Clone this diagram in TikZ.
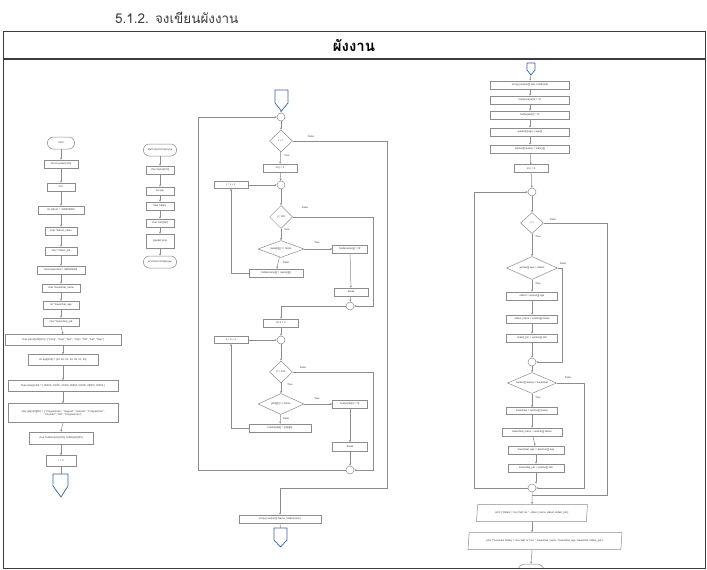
\documentclass[tikz,border=0pt]{standalone}
\usepackage{fontspec}
\setmainfont{Liberation Sans}
\newfontfamily\thai[Script=Thai]{Loma}
\newfontfamily\df{Liberation Sans}
\usetikzlibrary{arrows.meta,shapes.geometric,shapes.misc}
\definecolor{lgray}{HTML}{8C8C8C}
\definecolor{tgray}{HTML}{3A3A3A}
\definecolor{bluec}{HTML}{3561A8}
\definecolor{frame}{HTML}{3C3C3C}
\tikzset{
  fc/.style={draw=lgray, line width=0.5pt, fill=white, font=\df\fontsize{2.6}{3.1}\selectfont, text=tgray, inner sep=0.4pt, minimum height=8, align=center},
  term/.style={fc, rounded rectangle},
  dec/.style={fc, diamond, inner sep=0pt},
  jn/.style={draw=lgray, line width=0.5pt, circle, minimum size=8, inner sep=0pt, fill=white},
  io/.style={fc, trapezium, trapezium left angle=70, trapezium right angle=110, trapezium stretches body},
  arr/.style={draw=lgray, line width=0.5pt, -{Stealth[length=2.2pt,width=2pt]}},
  ln/.style={draw=lgray, line width=0.5pt},
  lab/.style={font=\df\fontsize{2.6}{3.1}\selectfont, text=tgray, inner sep=0pt},
  opc/.style={draw=bluec, line width=0.7pt, line join=round},
}
\begin{document}
\begin{tikzpicture}[x=1pt,y=-1pt]
\useasboundingbox (0,0) rectangle (707,570);
\fill[white] (0,0) rectangle (707,570);

% title and header
\node[anchor=west, inner sep=0pt, font=\thai\fontsize{13.5}{15}\selectfont, text=frame] (title) at (115,18) {5.1.2. จงเขียนผังงาน};
\node[inner sep=0pt, font=\thai\bfseries\fontsize{15}{17}\selectfont, text=black] (head) at (354,45) {ผังงาน};

% ---------------- left column ----------------
\node[term, minimum width=28, minimum height=12] (l1) at (61,143) {start};
\node[fc, minimum width=34] (l2) at (61,164) {struct worker[100]};
\node[fc, minimum width=28] (l3) at (61,187) {int i};
\node[fc, minimum width=46] (l4) at (61,210) {int oldest = -999999999};
\node[fc, minimum width=32] (l5) at (61,231) {char *oldest\_name};
\node[fc, minimum width=32] (l6) at (61,251) {char *oldest\_job};
\node[fc, minimum width=48] (l7) at (61,270) {float lowestSal = 999999999};
\node[fc, minimum width=38] (l8) at (61,288) {char *lowestSal\_name};
\node[fc, minimum width=36] (l9) at (61,305) {int *lowestSal\_age};
\node[fc, minimum width=36] (l10) at (61,322) {char *lowestSal\_job};
\node[fc, minimum width=116, minimum height=11] (l11) at (63,340) {char name[100][10] = \{"Pong", "Sam", "Nut", "Ying", "Toll", "Pat", "Nap"\}};
\node[fc, minimum width=70, minimum height=11] (l12) at (63,360) {int age[100] = \{22, 25, 24, 26, 28, 31, 25\}};
\node[fc, minimum width=110, minimum height=11] (l13) at (63,386) {float salary[100] = \{ 45000, 23000, 31250, 36850, 50000, 28500, 25000 \}};
\node[fc, minimum width=110, minimum height=19] (l14) at (63,413) {char job[100][50] = \{ "Programmer", "Support", "Advisor", "Programmer",\\ "Founder", "HR", "Programmer"\}};
\node[fc, minimum width=64, minimum height=12] (l15) at (61,438) {char holdername[100], holderjob[100]};
\node[fc, minimum width=30, minimum height=11] (l16) at (61,461) {i = 0};
\draw[opc] (53,474) -- (68,474) -- (68,486) -- (61,497) -- (53,486) -- cycle;
\coordinate (lc) at (61,474);
\foreach \a/\b in {l1/l2,l2/l3,l3/l4,l4/l5,l5/l6,l6/l7,l7/l8,l8/l9,l9/l10,l10/l11,l11/l12,l12/l13,l13/l14,l14/l15,l15/l16}
  \draw[arr] (\a.south) -- (\b.north);
\draw[ln] (l16.south) -- (lc);

% ---------------- struct column ----------------
\node[term, minimum width=34, minimum height=12] (s1) at (160,150) {start struct Employee};
\node[fc, minimum width=28] (s2) at (160,170) {char Name[100]};
\node[fc, minimum width=28] (s3) at (160,191) {int age};
\node[fc, minimum width=28] (s4) at (160,206) {float Salary};
\node[fc, minimum width=28] (s5) at (160,223) {char Job[100]};
\node[fc, minimum width=28, minimum height=14] (s6) at (160,241) {typedef emp};
\node[term, minimum width=34, minimum height=12] (s7) at (160,262) {end struct Employee};
\foreach \a/\b in {s1/s2,s2/s3,s3/s4,s4/s5,s5/s6,s6/s7}
  \draw[arr] (\a.south) -- (\b.north);

% ---------------- middle column ----------------
\draw[opc] (275,90) -- (288,90) -- (288,103) -- (281.5,111) -- (275,103) -- cycle;
\coordinate (mc1) at (281,111);
\node[jn] (c1) at (281,117) {};
\node[dec, minimum width=23, minimum height=22] (d1) at (281,141) {i < 7};
\node[fc, minimum width=34] (bj0) at (280,168) {int j = 0};
\node[jn] (c2) at (281,185) {};
\node[fc, minimum width=34, minimum height=7] (bjinc) at (231,185) {j = j + 1};
\node[dec, minimum width=23, minimum height=23] (d2) at (281,217) {j < 100};
\node[dec, aspect=2.7, minimum width=46, minimum height=17] (d3) at (281,249) {name[i][j] == NULL};
\node[fc, minimum width=35] (bhn0) at (350,249) {holdername[j] = '\textbackslash 0'};
\node[fc, minimum width=34] (bbr1) at (351,292) {break};
\node[jn] (c3) at (350,306) {};
\node[fc, minimum width=54] (bhn) at (276,273) {holdername[j] = name[i][j]};
\node[fc, minimum width=35] (bk0) at (281,323) {int k = 0};
\node[jn] (c4) at (281,340) {};
\node[fc, minimum width=34, minimum height=7] (bkinc) at (231,340) {k = k + 1};
\node[dec, minimum width=23, minimum height=22] (d4) at (281,372) {k < 100};
\node[dec, aspect=2.2, minimum width=46, minimum height=21] (d5) at (281,404) {job[i][k] == NULL};
\node[fc, minimum width=35] (bhj0) at (350,404) {holderjob[k] = '\textbackslash 0'};
\node[fc, minimum width=62] (bhj) at (280,428) {holderjob[k] = job[i][k]};
\node[fc, minimum width=35, minimum height=9] (bbr2) at (350,447) {break};
\node[jn] (c5) at (350,470) {};
\node[fc, minimum width=82] (sc1) at (280,519) {strcpy( worker[i].Name, holdername)};
\draw[opc] (274,528) -- (287,528) -- (287,540) -- (280.5,547) -- (274,540) -- cycle;
\coordinate (mc2) at (280.5,528);

\draw[arr] (mc1) -- (c1.north);
\draw[arr] (c1) -- (d1);
\draw[arr] (d1) -- (bj0);
\draw[arr] (bj0) -- (c2);
\draw[arr] (bjinc.east) -- (c2.west);
\draw[arr] (c2) -- (d2);
\draw[arr] (d2) -- (d3);
\draw[arr] (d3.east) -- (bhn0.west);
\draw[arr] (bhn0) -- (bbr1);
\draw[arr] (bbr1) -- (c3);
\draw[arr] (d3) -- (bhn);
\draw[arr] (bhn.west) -| (bjinc.south);
\draw[arr] (d2.east) -- (373,217) |- (c3.east);
\draw[arr] (c3.west) -| (bk0.north);
\draw[arr] (bk0) -- (c4);
\draw[arr] (bkinc.east) -- (c4.west);
\draw[arr] (c4) -- (d4);
\draw[arr] (d4) -- (d5);
\draw[arr] (d5.east) -- (bhj0.west);
\draw[arr] (bhj0) -- (bbr2);
\draw[arr] (bbr2) -- (c5);
\draw[arr] (d5) -- (bhj);
\draw[arr] (bhj.west) -| (bkinc.south);
\draw[arr] (d4.east) -- (373,372) |- (c5.east);
\draw[arr] (c5.west) -- (198,470) |- (c1.west);
\draw[arr] (d1.east) -- (387,141) |- (280,488) -- (sc1.north);
\draw[ln] (sc1.south) -- (mc2);

\node[lab] at (311,137) {False};
\node[lab] at (287,156) {True};
\node[lab] at (305,208) {False};
\node[lab] at (287,230) {True};
\node[lab] at (317,243) {True};
\node[lab] at (286,263) {False};
\node[lab] at (303,368) {False};
\node[lab] at (290,385) {True};
\node[lab] at (317,399) {True};
\node[lab] at (286,419) {False};

% ---------------- right column ----------------
\draw[opc] (527,63) -- (535,63) -- (535,70) -- (531,75) -- (527,70) -- cycle;
\coordinate (rc1) at (531,75);
\node[fc, minimum width=79] (r1) at (530,85) {strcpy( worker[i].Job, holderjob)};
\node[fc, minimum width=79] (r2) at (530,100) {holdername[0] = '\textbackslash 0'};
\node[fc, minimum width=79] (r3) at (530,115) {holderjob[0] = '\textbackslash 0'};
\node[fc, minimum width=79] (r4) at (530,132) {worker[i].age = age[i]};
\node[fc, minimum width=79] (r5) at (530,149) {worker[i].Salary = salary[i]};
\node[fc, minimum width=34] (r6) at (531,168.5) {int j = 0};
\node[jn] (rc2) at (532,192) {};
\node[dec, minimum width=23, minimum height=21] (rd1) at (532,223) {j < i};
\node[dec, aspect=2.2, minimum width=51, minimum height=23] (rd2) at (532,268) {worker[j].age > oldest};
\node[fc, minimum width=51] (r7) at (532,296) {oldest = worker[j].age};
\node[fc, minimum width=51] (r8) at (532,319) {oldest\_name = worker[j].Name};
\node[fc, minimum width=51] (r9) at (532,338) {oldest\_job = worker[j].Job};
\node[jn] (rc3) at (532,362) {};
\node[dec, aspect=2.3, minimum width=49, minimum height=21] (rd3) at (532,383) {worker[j].Salary < lowestSal};
\node[fc, minimum width=51, minimum height=7] (r10) at (532,411) {lowestSal = worker[j].Salary};
\node[fc, minimum width=60] (r11) at (532,432) {lowestSal\_name = worker[j].Name};
\node[fc, minimum width=56] (r12) at (536,450) {lowestSal\_age = \&worker[j].age};
\node[fc, minimum width=56] (r13) at (536,468) {lowestSal\_job = worker[j].Job};
\node[jn] (rc4) at (532,488) {};
\node[io, minimum width=111, minimum height=17] (p1) at (532,513) {print ("Oldest = \%s (\%d) \%s ", oldest\_name, oldest, oldest\_job);};
\node[io, minimum width=154, minimum height=17] (p2) at (545,541) {print ("\textbackslash nLowest Salary = \%s (\%d) \%.f \%s ", lowestSal\_name, *lowestSal\_age, lowestSal, oldest\_job );};
\begin{scope}
\clip (0,0) rectangle (707,568);
\node[term, minimum width=28, minimum height=16] (rend) at (531,572) {};
\end{scope}

\draw[arr] (rc1) -- (r1.north);
\foreach \a/\b in {r1/r2,r2/r3,r3/r4,r4/r5,r5/r6,r6/rc2,rc2/rd1,rd1/rd2,rd2/r7,r7/r8,r8/r9,r9/rc3,rc3/rd3,rd3/r10,r10/r11,r11/r12,r12/r13}
  \draw[arr] (\a) -- (\b);
\draw[arr] (r13.south) -- (r13.south |- rc4.north);
\draw[arr] (rd2.east) -- (562,268) |- (rc3.east);
\draw[arr] (rd3.east) -- (584,383) |- (rc4.east);
\draw[arr] (rc4.west) -- (474,488) |- (rc2.west);
\draw[ln] (rd1.east) -- (607,223) |- (532,495);
\draw[arr] (rc4.south) -- (p1.north);
\draw[arr] (p1.south) -- (p1.south |- p2.north);
\draw[arr] (p2.south -| p1.south) -- (rend.north);

\node[lab] at (553,220) {False};
\node[lab] at (538,237) {True};
\node[lab] at (563,264) {False};
\node[lab] at (538,284) {True};
\node[lab] at (568,378) {False};
\node[lab] at (538,398) {True};

% table frame
\draw[frame, line width=0.9pt] (3,31) rectangle (705,568);
\draw[frame, line width=1.1pt] (3,59) -- (705,59);
\end{tikzpicture}
\end{document}
